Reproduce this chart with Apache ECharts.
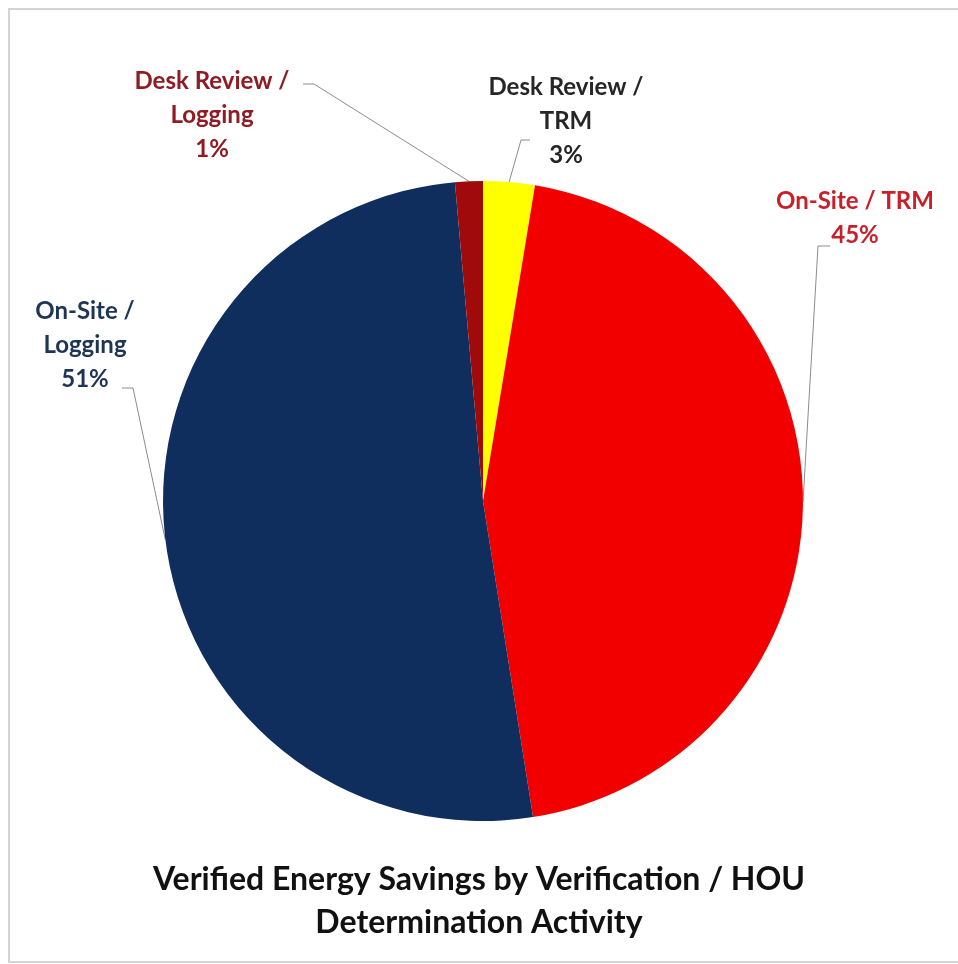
<!DOCTYPE html>
<html>
<head>
<meta charset="utf-8">
<script src="https://cdn.jsdelivr.net/npm/echarts@6/dist/echarts.min.js"></script>
<style>
html,body{margin:0;padding:0;background:#fff;}
#chart{width:958px;height:964px;}
</style>
</head>
<body>
<div id="chart"></div>
<script>
// Data
const categories = ['Desk Review /\nTRM', 'On-Site / TRM', 'On-Site /\nLogging', 'Desk Review /\nLogging'];
const values = [2.6, 44.9, 51.1, 1.4];
const sliceColors = ['#FFFF00', '#F20000', '#0F2E5E', '#A00A0A'];
const labelColors = ['#262626', '#C8202A', '#1F3556', '#8E1C22'];
const titleText = 'Verified Energy Savings by Verification / HOU\nDetermination Activity';

// Label placement (styling): label center x, top y, and leader-line end / elbow
const labelPlace = [
  { x: 566, y: 70, end: [530, 140], elbow: [521, 140] },
  { x: 855, y: 184, end: [830, 246], elbow: [818, 246] },
  { x: 85, y: 294, end: [122, 388], elbow: [133, 388] },
  { x: 212, y: 64, end: [303, 84], elbow: [314, 84] }
];

const chart = echarts.init(document.getElementById('chart'));
const FONT = 'Lato';

chart.setOption({
  backgroundColor: '#ffffff',
  animation: false,
  title: {
    text: titleText,
    left: 'center',
    top: 853,
    textStyle: { fontFamily: FONT, fontWeight: 'bold', fontSize: 32, lineHeight: 43, color: '#111111' }
  },
  graphic: [{
    type: 'rect',
    shape: { x: 9, y: 9, width: 960, height: 953 },
    style: { fill: 'none', stroke: '#d4d4d4', lineWidth: 2 },
    silent: true
  }],
  series: [{
    type: 'pie',
    center: [483, 501],
    radius: 320,
    startAngle: 90,
    clockwise: true,
    percentPrecision: 0,
    avoidLabelOverlap: false,
    itemStyle: { borderWidth: 0 },
    data: categories.map((c, i) => ({
      name: c,
      value: values[i],
      itemStyle: { color: sliceColors[i] },
      label: { color: labelColors[i] }
    })),
    label: {
      show: true,
      position: 'outside',
      formatter: '{b}\n{d}%',
      fontFamily: FONT,
      fontWeight: 'bold',
      fontSize: 24,
      lineHeight: 34,
      align: 'center'
    },
    labelLine: {
      show: true,
      length: 20,
      length2: 10,
      lineStyle: { color: '#8c8c8c', width: 1 }
    },
    labelLayout: function (params) {
      const p = labelPlace[params.dataIndex];
      const start = params.labelLinePoints ? params.labelLinePoints[0] : p.elbow;
      return {
        x: p.x,
        y: p.y,
        align: 'center',
        verticalAlign: 'top',
        labelLinePoints: [start, p.elbow, p.end]
      };
    }
  }]
});
</script>
</body>
</html>
